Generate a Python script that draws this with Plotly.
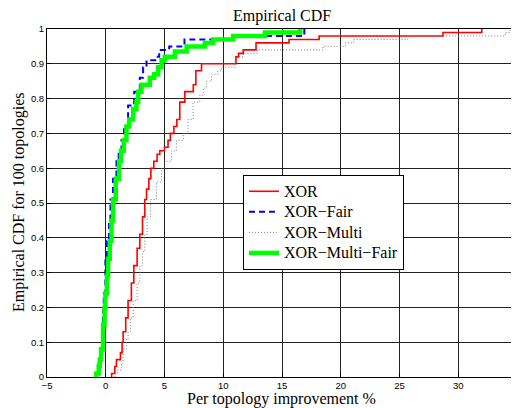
import plotly.graph_objects as go

# ---- data (step corners of each empirical CDF) ----
xor_x = [0.50, 0.77, 0.91, 1.25, 1.39, 1.48, 1.70, 1.90, 2.18, 2.39, 2.67, 2.90, 3.13, 3.32, 3.47, 3.67,
         3.84, 4.09, 4.37, 4.60, 5.00, 5.30, 5.50, 5.80, 6.05, 6.30, 6.73, 7.45, 7.67, 8.15, 11.08, 11.30,
         11.70, 12.79, 15.60, 18.16, 28.70, 32.00]
xor_y = [0.01, 0.03, 0.05, 0.07, 0.10, 0.13, 0.17, 0.22, 0.27, 0.32, 0.37, 0.41, 0.46, 0.51, 0.54, 0.57,
         0.60, 0.62, 0.64, 0.65, 0.66, 0.68, 0.70, 0.72, 0.74, 0.79, 0.82, 0.84, 0.88, 0.90, 0.92, 0.93,
         0.94, 0.96, 0.97, 0.98, 0.99, 1.00]

fair_x = [-0.75, -0.60, -0.43, -0.29, -0.23, -0.17, -0.03, 0.11, 0.28, 0.40, 0.62, 0.91, 1.10, 1.34,
          1.56, 1.90, 2.42, 2.90, 3.18, 3.47, 4.30, 4.55, 5.40, 6.70, 10.90, 16.90]
fair_y = [0.01, 0.04, 0.08, 0.15, 0.19, 0.24, 0.34, 0.39, 0.45, 0.51, 0.57, 0.62, 0.65, 0.68,
          0.72, 0.78, 0.82, 0.86, 0.89, 0.91, 0.92, 0.94, 0.95, 0.97, 0.98, 1.00]

multi_x = [0.80, 1.00, 1.34, 1.48, 1.76, 1.90, 2.10, 2.33, 2.67, 2.90, 3.13, 3.32, 3.52, 3.81, 4.32,
           4.75, 5.03, 5.60, 6.03, 6.60, 7.00, 7.44, 8.00, 8.30, 8.58, 9.00, 9.55, 9.86, 11.00, 11.20,
           11.70, 12.90, 18.50, 20.40, 21.10, 25.70, 34.00, 34.40]
multi_y = [0.01, 0.02, 0.04, 0.08, 0.11, 0.13, 0.17, 0.22, 0.27, 0.32, 0.36, 0.41, 0.46, 0.51, 0.56,
           0.60, 0.62, 0.65, 0.68, 0.70, 0.74, 0.79, 0.81, 0.83, 0.85, 0.87, 0.88, 0.89, 0.91, 0.92,
           0.93, 0.94, 0.95, 0.96, 0.97, 0.98, 0.99, 1.00]

mfair_x = [-0.80, -0.60, -0.51, -0.40, -0.23, -0.10, -0.03, 0.10, 0.20, 0.34, 0.49, 0.62, 0.85, 1.13,
           1.30, 1.53, 1.76, 2.00, 2.33, 2.61, 2.76, 3.04, 3.75, 4.12, 4.46, 4.75, 5.03, 5.88, 6.88,
           8.44, 9.15, 10.85, 13.55, 16.54]
mfair_y = [0.01, 0.03, 0.05, 0.08, 0.15, 0.20, 0.24, 0.29, 0.34, 0.39, 0.45, 0.51, 0.57, 0.62,
           0.65, 0.68, 0.72, 0.74, 0.77, 0.79, 0.82, 0.84, 0.86, 0.87, 0.89, 0.91, 0.92, 0.935, 0.95,
           0.96, 0.97, 0.98, 0.99, 1.00]

x_ticks = [-5, 0, 5, 10, 15, 20, 25, 30, 35]
x_ticktext = ["\u22125", "0", "5", "10", "15", "20", "25", "30", "35"]
y_ticks = [0, 0.1, 0.2, 0.3, 0.4, 0.5, 0.6, 0.7, 0.8, 0.9, 1]
y_ticktext = ["0", "0.1", "0.2", "0.3", "0.4", "0.5", "0.6", "0.7", "0.8", "0.9", "1"]

names = ["XOR", "XOR\u2212Fair", "XOR\u2212Multi", "XOR\u2212Multi\u2212Fair"]


def stairs(xs, ys):
    return [xs[0]] + list(xs), [0.0] + list(ys)


def big(s):
    return '<span style="font-size:16px">' + s + '</span>'


fig = go.Figure()
sx, sy = stairs(xor_x, xor_y)
fig.add_trace(go.Scatter(x=sx, y=sy, mode="lines", line_shape="hv", name=big(names[0]),
                         line=dict(color="#ff0000", width=1.6)))
sx, sy = stairs(fair_x, fair_y)
fig.add_trace(go.Scatter(x=sx, y=sy, mode="lines", line_shape="hv", name=big(names[1]),
                         line=dict(color="#0000ff", width=2, dash="6px,4px")))
sx, sy = stairs(multi_x, multi_y)
fig.add_trace(go.Scatter(x=sx, y=sy, mode="lines", line_shape="hv", name=big(names[2]),
                         line=dict(color="#808080", width=1, dash="1px,2px")))
sx, sy = stairs(mfair_x, mfair_y)
fig.add_trace(go.Scatter(x=sx, y=sy, mode="lines", line_shape="hv", name=big(names[3]),
                         line=dict(color="#00ff00", width=4.5)))

serif = "Liberation Serif, Times New Roman, serif"
sans = "Liberation Sans, Arial, sans-serif"

# page offset (body margin) compensation
OFF = 8
W, H = 519 - OFF, 408 - OFF
L, R, T, B = 47 - OFF, 517 - OFF, 29 - OFF, 377 - OFF
pw, ph = R - L, B - T

fig.update_layout(
    width=W, height=H,
    margin=dict(l=L, r=W - R, t=T, b=H - B, autoexpand=False),
    paper_bgcolor="white", plot_bgcolor="white",
    font=dict(family=sans, size=9.5, color="black"),
    showlegend=True,
    legend=dict(x=(243 - OFF - L) / pw, y=(B - (175 - OFF)) / ph, xanchor="left", yanchor="top",
                bgcolor="white", bordercolor="black", borderwidth=1,
                font=dict(family=serif, size=13.5, color="black"),
                itemwidth=30, tracegroupgap=0),
    xaxis=dict(range=[-5, 35], tickvals=x_ticks, ticktext=x_ticktext, automargin=False,
               showgrid=True, gridcolor="#222222", gridwidth=1,
               showline=True, mirror=True, linecolor="black", linewidth=1,
               ticks="inside", ticklen=4, tickcolor="black", zeroline=False),
    yaxis=dict(range=[0, 1], tickvals=y_ticks, ticktext=y_ticktext, automargin=False,
               showgrid=True, gridcolor="#222222", gridwidth=1,
               showline=True, mirror=True, linecolor="black", linewidth=1,
               ticks="inside", ticklen=4, tickcolor="black", zeroline=False),
    annotations=[
        dict(text="Empirical CDF", xref="paper", yref="paper", x=0.5, y=(B - (16 - OFF)) / ph,
             xanchor="center", yanchor="middle", showarrow=False,
             font=dict(family=serif, size=16, color="black")),
        dict(text="Per topology improvement %", xref="paper", yref="paper",
             x=(281 - OFF - L) / pw, y=(B - (399 - OFF)) / ph,
             xanchor="center", yanchor="middle", showarrow=False,
             font=dict(family=serif, size=16, color="black")),
        dict(text="Empirical CDF for 100 topologies", xref="paper", yref="paper",
             x=(19 - OFF - L) / pw, y=(B - (202 - OFF)) / ph, textangle=-90,
             xanchor="center", yanchor="middle", showarrow=False,
             font=dict(family=serif, size=16, color="black")),
    ],
)

fig.write_html("out.html")
